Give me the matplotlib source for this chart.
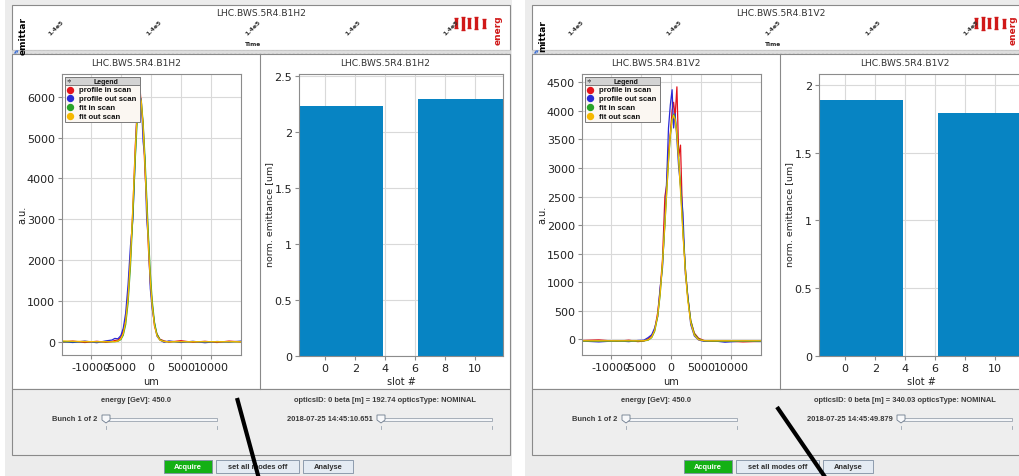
import matplotlib
matplotlib.use("Agg")
import matplotlib.pyplot as plt
from matplotlib.patches import Rectangle, Polygon
from matplotlib.ticker import FuncFormatter

plt.rcParams['axes.unicode_minus'] = False
plt.rcParams['font.family'] = ['DejaVu Sans']

W, H = 1019, 477

# ---- values ----
devices = ["LHC.BWS.5R4.B1H2", "LHC.BWS.5R4.B1V2"]
series_names = ["profile in scan", "profile out scan", "fit in scan", "fit out scan"]
series_colors = ["#e3141c", "#2a2ad6", "#27a327", "#f5b800"]

# horizontal scan (um, a.u.)
h2_um = [-14800, -13000, -11000, -9000, -7500, -6500, -6000, -5500, -5000, -4600, -4200, -3800,
         -3400, -3000, -2600, -2300, -2000, -1800, -1600, -1300, -1000, -700, -400, -100,
         200, 600, 1000, 1500, 2200, 3000, 5000, 7000, 9000, 11000, 13000, 15000]
h2_prof_in = [-10, 15, -20, 10, -15, 5, 30, 40, 110, 260, 560, 1150, 2080, 3250, 4800, 5600,
              6150, 6200, 5750, 5350, 4200, 3400, 2250, 1450, 950, 380, 190, 60, 20, -10,
              25, -15, 10, -20, 15, -5]
h2_prof_out = [5, -20, 15, -25, 20, 40, 80, 70, 150, 330, 700, 1400, 2350, 3000, 4550, 5700,
               6050, 5900, 5950, 4900, 4500, 3000, 2450, 1300, 820, 450, 140, 40, -15, 20,
               -20, 10, -25, 5, -10, 15]
h2_fit_in = [20, 10, 5, 0, 0, 0, 2, 14, 67, 196, 496, 1080, 2030, 3320, 4690, 5520, 5990, 6040,
             5880, 5270, 4360, 3320, 2330, 1510, 900, 400, 152, 37, 3, 0, 0, 0, 0, 0, 0, 0]
h2_fit_out = [0, 0, 0, 0, 0, 0, 1, 10, 52, 160, 420, 950, 1850, 3100, 4480, 5350, 5870, 5950,
              5880, 5380, 4560, 3560, 2560, 1700, 1030, 470, 190, 50, 5, 0, 0, 0, 0, 0, 0, 0]

# vertical scan (um, a.u.)
v2_um = [-14800, -12000, -9000, -7000, -5500, -4500, -3800, -3200, -2700, -2200, -1800, -1400,
         -1000, -700, -400, -100, 200, 450, 700, 1000, 1300, 1600, 2000, 2400, 2800, 3300,
         3900, 4600, 5500, 7000, 9000, 12000, 15200]
v2_prof_in = [-20, -10, -35, -15, -40, -30, 10, 60, 170, 470, 850, 1400, 2500, 2700, 3300, 3600,
              4000, 4150, 3900, 4420, 3200, 3400, 1900, 1250, 750, 330, 110, 20, -20, -35,
              -30, -45, -35]
v2_prof_out = [-30, -45, -25, -40, -20, -15, 30, 80, 200, 400, 900, 1250, 2100, 2800, 3700, 4100,
               4370, 3700, 3950, 3500, 3000, 2700, 2220, 1150, 780, 260, 60, -10, -35, -25,
               -50, -30, -40]
v2_fit_in = [-25, -25, -25, -25, -25, -23, -10, 38, 156, 421, 797, 1343, 2035, 2595, 3135, 3575,
             3850, 3925, 3850, 3575, 3135, 2595, 1850, 1190, 689, 293, 74, -6, -23, -25, -25,
             -25, -25]
v2_fit_out = [-30, -30, -30, -30, -30, -27, -15, 30, 140, 400, 770, 1310, 2000, 2570, 3110, 3560,
              3850, 3940, 3880, 3620, 3190, 2660, 1920, 1250, 740, 330, 95, 5, -25, -30, -30,
              -30, -30]

slots = [1, 9]
h2_emit = [2.23, 2.29]
v2_emit = [1.89, 1.79]

energy_text = "energy [GeV]: 450.0"
bunch_text = "Bunch 1 of 2"
h2_optics = "opticsID: 0 beta [m] = 192.74 opticsType: NOMINAL"
v2_optics = "opticsID: 0 beta [m] = 340.03 opticsType: NOMINAL"
h2_stamp = "2018-07-25 14:45:10.651"
v2_stamp = "2018-07-25 14:45:49.879"
button_labels = ["Acquire", "set all modes off", "Analyse"]

# top strip (time history): tick places in % of width, energy marks
time_ticks = [8.8, 28.6, 48.5, 68.4, 88.2]
time_tick_label = "1.4e5"
energy_t = [89.2, 90.5, 91.8, 93.2, 94.7]
energy_lo = [0.28, 0.27, 0.29, 0.27, 0.30]
energy_hi = [0.52, 0.55, 0.50, 0.54, 0.50]

fig = plt.figure(figsize=(W / 100, H / 100), dpi=100)
fig.patch.set_facecolor("white")


def ax_px(x0, y0, x1, y1, z=1):
    return fig.add_axes([x0 / W, 1 - y1 / H, (x1 - x0) / W, (y1 - y0) / H], zorder=z)


bg = ax_px(0, 0, W, H, z=0)
bg.set_xlim(0, W)
bg.set_ylim(H, 0)
bg.axis("off")
fg = ax_px(0, 0, W, H, z=20)
fg.set_xlim(0, W)
fg.set_ylim(H, 0)
fg.axis("off")
fg.patch.set_alpha(0)

gui = dict(family="Liberation Sans", fontweight="bold", color="#3a3a3a", fontsize=5.4)
frame = "#8a8a8a"


def style(ax):
    for s in ax.spines.values():
        s.set_color("#8c8c8c")
        s.set_linewidth(0.8)
    ax.tick_params(labelsize=8, length=3, color="#8c8c8c", labelcolor="#222222", pad=2)
    ax.grid(True, color="#d9d9d9", lw=0.8)
    ax.set_axisbelow(True)


def slider(x0, x1, y):
    bg.add_patch(Rectangle((x0 + 6, y - 1.5), x1 - x0 - 6, 3, fc="#f4f6f9", ec="#9aa4b0", lw=0.6, zorder=3))
    bg.add_patch(Polygon([(x0, y - 4), (x0 + 8, y - 4), (x0 + 8, y + 1), (x0 + 4, y + 4), (x0, y + 1)],
                         closed=True, fc="#f7f8fa", ec="#6c7a8c", lw=0.6, zorder=4))
    bg.plot([x0 + 4, x0 + 4], [y + 7, y + 10], color="#9aa4b0", lw=0.6)
    bg.plot([x1, x1], [y + 7, y + 10], color="#9aa4b0", lw=0.6)


def draw_window(dx, name, um, curves, emit, plim, pticks, btop, bticks, optics, stamp, left_tag, energ_x):
    # window background and frames
    bg.add_patch(Rectangle((5 + dx, 0), 507, H, fc="#ececec", ec="none"))
    bg.add_patch(Rectangle((12 + dx, 6), 498, 45, fc="white", ec=frame, lw=0.8))
    bg.add_patch(Rectangle((12 + dx, 51), 498, 4, fc="#dedede", ec="#cfcfcf", lw=0.5, hatch="...."))
    bg.add_patch(Rectangle((12 + dx, 55), 498, 335, fc="white", ec=frame, lw=0.8))
    bg.plot([260 + dx, 260 + dx], [55, 390], color=frame, lw=0.8)
    bg.add_patch(Rectangle((12 + dx, 390), 498, 66, fc="#eeeeee", ec=frame, lw=0.8))
    bg.text(14 + dx, 53, "\u25b2\u25bc", fontsize=2.6, color="#3b6fd6", va="center")

    # top strip
    bg.text(261 + dx, 14, name, fontsize=6.6, color="#333333", ha="center", va="center")
    bg.text(253 + dx, 44, "Time", fontsize=4.2, fontweight="bold", color="#222222", ha="center", va="center")
    bg.text(23 + dx, 36, left_tag, fontsize=6.5, fontweight="bold", rotation=90, ha="center", va="center")
    bg.text(energ_x, 30, "energ", fontsize=6.5, fontweight="bold", color="#d01818", rotation=90,
            ha="center", va="center")
    strip = ax_px(12 + dx, 6, 510 + dx, 51, z=2)
    strip.set_xlim(0, 100)
    strip.set_ylim(1, 0)
    strip.axis("off")
    for t in time_ticks:
        strip.text(t, 0.5, time_tick_label, fontsize=4.4, rotation=45, ha="center", va="center",
                   color="#333333", fontweight="bold")
    mid = [(a + b) / 2 for a, b in zip(energy_lo, energy_hi)]
    err = [(b - a) / 2 for a, b in zip(energy_lo, energy_hi)]
    strip.errorbar(energy_t, mid, yerr=err, fmt="none", ecolor="#d01818", elinewidth=2.4, capsize=1.6)

    # profile plot
    ax = ax_px(62 + dx, 75, 241 + dx, 356, z=3)
    for yv, c in zip(curves, series_colors):
        ax.plot(um, yv, color=c, lw=0.9)
    ax.set_xlim(-14800, 15000)
    ax.set_ylim(*plim)
    ax.set_xticks([-10000, -5000, 0, 5000, 10000])
    ax.set_yticks(pticks)
    style(ax)
    bg.text(136 + dx, 64, name, fontsize=6.6, color="#333333", ha="center", va="center")
    bg.text(151 + dx, 382, "um", fontsize=7, color="#222222", ha="center", va="center")
    bg.text(22 + dx, 215, "a.u.", fontsize=7, color="#222222", rotation=90, ha="center", va="center")

    # legend box
    lx, ly = 65 + dx, 78
    fg.add_patch(Rectangle((lx, ly), 75, 45, fc="#fbf7f2", ec="#7a7a7a", lw=0.7))
    fg.add_patch(Rectangle((lx, ly), 75, 7.5, fc="#d3d3d3", ec="#7a7a7a", lw=0.7))
    fg.text(lx + 41, ly + 4, "Legend", ha="center", va="center", **dict(gui, fontsize=5, color="#111111"))
    fg.text(lx + 4, ly + 3.6, "\u2251", ha="center", va="center", fontsize=4, color="#333333")
    for i, (lab, c) in enumerate(zip(series_names, series_colors)):
        yy = ly + 12.5 + i * 8.9
        fg.plot(lx + 5, yy, "o", ms=4.3, color=c, mec=c)
        fg.text(lx + 14, yy, lab, ha="left", va="center", **dict(gui, fontsize=5.6, color="#111111"))

    # emittance bars
    bx = ax_px(299 + dx, 75, 503 + dx, 357, z=3)
    bx.bar(slots, emit, width=5.7, color="#0784c3")
    bx.set_xlim(-1.75, 11.85)
    bx.set_ylim(0, btop)
    bx.set_xticks([0, 2, 4, 6, 8, 10])
    bx.set_yticks(bticks)
    bx.yaxis.set_major_formatter(FuncFormatter(lambda v, p: "%g" % v))
    style(bx)
    bg.text(385 + dx, 64, name, fontsize=6.6, color="#333333", ha="center", va="center")
    bg.text(401 + dx, 382, "slot #", fontsize=7, color="#222222", ha="center", va="center")
    bg.text(270 + dx, 215, "norm. emittance [um]", fontsize=6.8, color="#222222", rotation=90,
            ha="center", va="center")

    # controls
    bg.text(136 + dx, 401, energy_text, ha="center", va="center", **gui)
    bg.text(385 + dx, 401, optics, ha="center", va="center", **gui)
    bg.text(97 + dx, 420, bunch_text, ha="right", va="center", **gui)
    slider(102 + dx, 217 + dx, 420)
    bg.text(373 + dx, 420, stamp, ha="right", va="center", **gui)
    slider(377 + dx, 492 + dx, 420)
    for (x0, x1), lab in zip([(164, 212), (216, 299), (303, 353)], button_labels):
        green = lab == "Acquire"
        bg.add_patch(Rectangle((x0 + dx, 461), x1 - x0, 13, fc="#14b014" if green else "#e4ebf3",
                               ec="#7f8fa3", lw=0.6))
        bg.text((x0 + x1) / 2 + dx, 467.5, lab, ha="center", va="center",
                **dict(gui, color="white" if green else "#2f2f2f"))


draw_window(0, devices[0], h2_um, [h2_prof_in, h2_prof_out, h2_fit_out, h2_fit_in], h2_emit,
            (-326, 6556), [0, 1000, 2000, 3000, 4000, 5000, 6000], 2.515, [0, 0.5, 1, 1.5, 2, 2.5],
            h2_optics, h2_stamp, "emittar", 498)
draw_window(520, devices[1], v2_um, [v2_prof_in, v2_prof_out, v2_fit_out, v2_fit_in], v2_emit,
            (-274, 4645), [0, 500, 1000, 1500, 2000, 2500, 3000, 3500, 4000, 4500], 2.081,
            [0, 0.5, 1, 1.5, 2], v2_optics, v2_stamp, "mittar", 1013)

# white gap between the two windows
bg.add_patch(Rectangle((512, 0), 13, H, fc="white", ec="none", zorder=5))

# hand-drawn pointer strokes
fg.plot([237, 258.5], [399, 478], color="black", lw=3.0, solid_capstyle="butt")
fg.plot([777, 825], [408, 478], color="black", lw=3.0, solid_capstyle="butt")

fig.savefig("out.png", dpi=100)
